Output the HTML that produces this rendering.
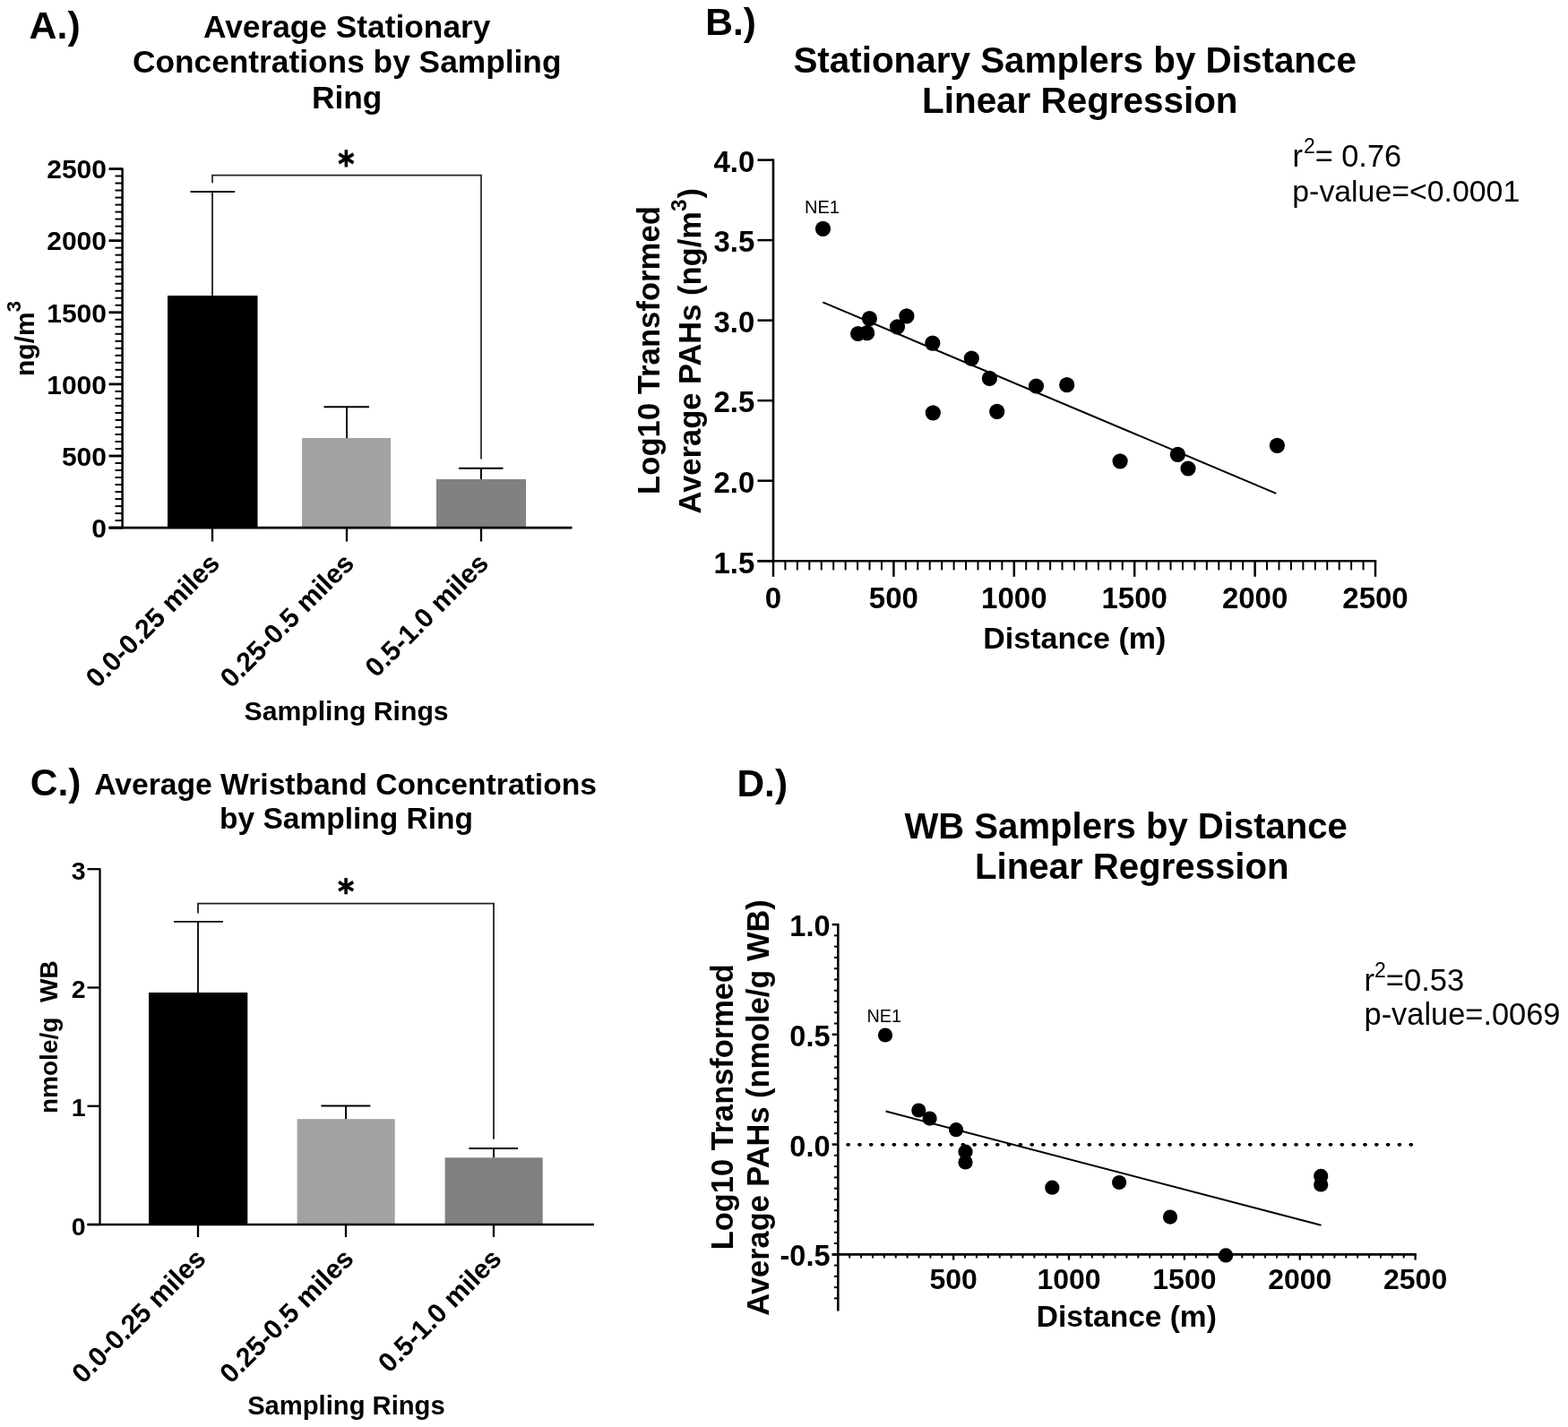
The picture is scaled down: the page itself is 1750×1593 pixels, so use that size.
<!DOCTYPE html>
<html><head><meta charset="utf-8"><title>Figure</title>
<style>
html,body{margin:0;padding:0;background:#fff;}
svg{display:block;}
</style></head>
<body>
<svg width="1750" height="1593" viewBox="0 0 1750 1593">
<rect width="1750" height="1593" fill="#fff"/>
<text x="32.60" y="42.90" font-size="42.8" font-weight="bold" text-anchor="start" font-family="'Liberation Sans', Arial, Helvetica, sans-serif" >A.)</text>
<text x="387.20" y="41.70" font-size="35.3" font-weight="bold" text-anchor="middle" font-family="'Liberation Sans', Arial, Helvetica, sans-serif" >Average Stationary</text>
<text x="387.20" y="81.40" font-size="35.3" font-weight="bold" text-anchor="middle" font-family="'Liberation Sans', Arial, Helvetica, sans-serif" >Concentrations by Sampling</text>
<text x="387.20" y="120.50" font-size="35.3" font-weight="bold" text-anchor="middle" font-family="'Liberation Sans', Arial, Helvetica, sans-serif" >Ring</text>
<line x1="121.50" y1="589.10" x2="136.60" y2="589.10" stroke="#000" stroke-width="2.8" />
<line x1="128.50" y1="581.09" x2="136.60" y2="581.09" stroke="#000" stroke-width="2.0" />
<line x1="128.50" y1="573.08" x2="136.60" y2="573.08" stroke="#000" stroke-width="2.0" />
<line x1="128.50" y1="565.06" x2="136.60" y2="565.06" stroke="#000" stroke-width="2.0" />
<line x1="128.50" y1="557.05" x2="136.60" y2="557.05" stroke="#000" stroke-width="2.0" />
<line x1="128.50" y1="549.04" x2="136.60" y2="549.04" stroke="#000" stroke-width="2.0" />
<line x1="128.50" y1="541.03" x2="136.60" y2="541.03" stroke="#000" stroke-width="2.0" />
<line x1="128.50" y1="533.02" x2="136.60" y2="533.02" stroke="#000" stroke-width="2.0" />
<line x1="128.50" y1="525.00" x2="136.60" y2="525.00" stroke="#000" stroke-width="2.0" />
<line x1="128.50" y1="516.99" x2="136.60" y2="516.99" stroke="#000" stroke-width="2.0" />
<line x1="121.50" y1="508.98" x2="136.60" y2="508.98" stroke="#000" stroke-width="2.8" />
<line x1="128.50" y1="500.97" x2="136.60" y2="500.97" stroke="#000" stroke-width="2.0" />
<line x1="128.50" y1="492.96" x2="136.60" y2="492.96" stroke="#000" stroke-width="2.0" />
<line x1="128.50" y1="484.94" x2="136.60" y2="484.94" stroke="#000" stroke-width="2.0" />
<line x1="128.50" y1="476.93" x2="136.60" y2="476.93" stroke="#000" stroke-width="2.0" />
<line x1="128.50" y1="468.92" x2="136.60" y2="468.92" stroke="#000" stroke-width="2.0" />
<line x1="128.50" y1="460.91" x2="136.60" y2="460.91" stroke="#000" stroke-width="2.0" />
<line x1="128.50" y1="452.90" x2="136.60" y2="452.90" stroke="#000" stroke-width="2.0" />
<line x1="128.50" y1="444.88" x2="136.60" y2="444.88" stroke="#000" stroke-width="2.0" />
<line x1="128.50" y1="436.87" x2="136.60" y2="436.87" stroke="#000" stroke-width="2.0" />
<line x1="121.50" y1="428.86" x2="136.60" y2="428.86" stroke="#000" stroke-width="2.8" />
<line x1="128.50" y1="420.85" x2="136.60" y2="420.85" stroke="#000" stroke-width="2.0" />
<line x1="128.50" y1="412.84" x2="136.60" y2="412.84" stroke="#000" stroke-width="2.0" />
<line x1="128.50" y1="404.82" x2="136.60" y2="404.82" stroke="#000" stroke-width="2.0" />
<line x1="128.50" y1="396.81" x2="136.60" y2="396.81" stroke="#000" stroke-width="2.0" />
<line x1="128.50" y1="388.80" x2="136.60" y2="388.80" stroke="#000" stroke-width="2.0" />
<line x1="128.50" y1="380.79" x2="136.60" y2="380.79" stroke="#000" stroke-width="2.0" />
<line x1="128.50" y1="372.78" x2="136.60" y2="372.78" stroke="#000" stroke-width="2.0" />
<line x1="128.50" y1="364.76" x2="136.60" y2="364.76" stroke="#000" stroke-width="2.0" />
<line x1="128.50" y1="356.75" x2="136.60" y2="356.75" stroke="#000" stroke-width="2.0" />
<line x1="121.50" y1="348.74" x2="136.60" y2="348.74" stroke="#000" stroke-width="2.8" />
<line x1="128.50" y1="340.73" x2="136.60" y2="340.73" stroke="#000" stroke-width="2.0" />
<line x1="128.50" y1="332.72" x2="136.60" y2="332.72" stroke="#000" stroke-width="2.0" />
<line x1="128.50" y1="324.70" x2="136.60" y2="324.70" stroke="#000" stroke-width="2.0" />
<line x1="128.50" y1="316.69" x2="136.60" y2="316.69" stroke="#000" stroke-width="2.0" />
<line x1="128.50" y1="308.68" x2="136.60" y2="308.68" stroke="#000" stroke-width="2.0" />
<line x1="128.50" y1="300.67" x2="136.60" y2="300.67" stroke="#000" stroke-width="2.0" />
<line x1="128.50" y1="292.66" x2="136.60" y2="292.66" stroke="#000" stroke-width="2.0" />
<line x1="128.50" y1="284.64" x2="136.60" y2="284.64" stroke="#000" stroke-width="2.0" />
<line x1="128.50" y1="276.63" x2="136.60" y2="276.63" stroke="#000" stroke-width="2.0" />
<line x1="121.50" y1="268.62" x2="136.60" y2="268.62" stroke="#000" stroke-width="2.8" />
<line x1="128.50" y1="260.61" x2="136.60" y2="260.61" stroke="#000" stroke-width="2.0" />
<line x1="128.50" y1="252.60" x2="136.60" y2="252.60" stroke="#000" stroke-width="2.0" />
<line x1="128.50" y1="244.58" x2="136.60" y2="244.58" stroke="#000" stroke-width="2.0" />
<line x1="128.50" y1="236.57" x2="136.60" y2="236.57" stroke="#000" stroke-width="2.0" />
<line x1="128.50" y1="228.56" x2="136.60" y2="228.56" stroke="#000" stroke-width="2.0" />
<line x1="128.50" y1="220.55" x2="136.60" y2="220.55" stroke="#000" stroke-width="2.0" />
<line x1="128.50" y1="212.54" x2="136.60" y2="212.54" stroke="#000" stroke-width="2.0" />
<line x1="128.50" y1="204.52" x2="136.60" y2="204.52" stroke="#000" stroke-width="2.0" />
<line x1="128.50" y1="196.51" x2="136.60" y2="196.51" stroke="#000" stroke-width="2.0" />
<line x1="121.50" y1="188.50" x2="136.60" y2="188.50" stroke="#000" stroke-width="2.8" />
<line x1="136.60" y1="187.50" x2="136.60" y2="590.30" stroke="#000" stroke-width="2.5" />
<rect x="187.00" y="330.00" width="100.50" height="259.10" fill="#000"/>
<rect x="337.00" y="489.00" width="99.00" height="100.10" fill="#a2a2a2"/>
<rect x="487.00" y="535.00" width="100.00" height="54.10" fill="#818181"/>
<line x1="121.50" y1="589.10" x2="638.50" y2="589.10" stroke="#000" stroke-width="2.6" />
<line x1="237.00" y1="589.10" x2="237.00" y2="604.50" stroke="#000" stroke-width="2.3" />
<line x1="387.00" y1="589.10" x2="387.00" y2="604.50" stroke="#000" stroke-width="2.3" />
<line x1="537.00" y1="589.10" x2="537.00" y2="604.50" stroke="#000" stroke-width="2.3" />
<line x1="237.00" y1="330.00" x2="237.00" y2="214.00" stroke="#000" stroke-width="1.6" />
<line x1="212.50" y1="214.00" x2="262.00" y2="214.00" stroke="#000" stroke-width="1.8" />
<line x1="387.00" y1="489.00" x2="387.00" y2="454.30" stroke="#000" stroke-width="2.0" />
<line x1="361.50" y1="454.30" x2="412.00" y2="454.30" stroke="#000" stroke-width="2.0" />
<line x1="537.00" y1="535.00" x2="537.00" y2="522.70" stroke="#000" stroke-width="2.0" />
<line x1="512.00" y1="522.70" x2="561.50" y2="522.70" stroke="#000" stroke-width="2.0" />
<path d="M237,204.3 V195.6 H537 V512.6" fill="none" stroke="#222" stroke-width="1.7"/>
<text transform="translate(386.40 196.50) scale(1 1.13)" x="0" y="0" font-size="35" font-weight="bold" text-anchor="middle" font-family="DejaVu Sans, sans-serif" stroke="#000" stroke-width="0.7">*</text>
<text x="119.00" y="599.90" font-size="30" font-weight="bold" text-anchor="end" font-family="'Liberation Sans', Arial, Helvetica, sans-serif" >0</text>
<text x="119.00" y="519.78" font-size="30" font-weight="bold" text-anchor="end" font-family="'Liberation Sans', Arial, Helvetica, sans-serif" >500</text>
<text x="119.00" y="439.66" font-size="30" font-weight="bold" text-anchor="end" font-family="'Liberation Sans', Arial, Helvetica, sans-serif" >1000</text>
<text x="119.00" y="359.54" font-size="30" font-weight="bold" text-anchor="end" font-family="'Liberation Sans', Arial, Helvetica, sans-serif" >1500</text>
<text x="119.00" y="279.42" font-size="30" font-weight="bold" text-anchor="end" font-family="'Liberation Sans', Arial, Helvetica, sans-serif" >2000</text>
<text x="119.00" y="199.30" font-size="30" font-weight="bold" text-anchor="end" font-family="'Liberation Sans', Arial, Helvetica, sans-serif" >2500</text>
<text transform="translate(37.6 378) rotate(-90)" font-size="30" font-weight="bold" text-anchor="middle" font-family="'Liberation Sans', Arial, Helvetica, sans-serif">ng/m<tspan font-size="22" dy="-15">3</tspan></text>
<text transform="translate(247.0 630.5) rotate(-45)" font-size="30.2" font-weight="bold" text-anchor="end" font-family="'Liberation Sans', Arial, Helvetica, sans-serif">0.0-0.25 miles</text>
<text transform="translate(397.0 630.5) rotate(-45)" font-size="30.2" font-weight="bold" text-anchor="end" font-family="'Liberation Sans', Arial, Helvetica, sans-serif">0.25-0.5 miles</text>
<text transform="translate(547.0 630.5) rotate(-45)" font-size="30.2" font-weight="bold" text-anchor="end" font-family="'Liberation Sans', Arial, Helvetica, sans-serif">0.5-1.0 miles</text>
<text x="386.60" y="804.20" font-size="30.2" font-weight="bold" text-anchor="middle" font-family="'Liberation Sans', Arial, Helvetica, sans-serif" >Sampling Rings</text>
<text x="787.20" y="38.60" font-size="42.5" font-weight="bold" text-anchor="start" font-family="'Liberation Sans', Arial, Helvetica, sans-serif" >B.)</text>
<text x="1199.70" y="80.90" font-size="40.4" font-weight="bold" text-anchor="middle" font-family="'Liberation Sans', Arial, Helvetica, sans-serif" >Stationary Samplers by Distance</text>
<text x="1205.30" y="125.70" font-size="40.4" font-weight="bold" text-anchor="middle" font-family="'Liberation Sans', Arial, Helvetica, sans-serif" >Linear Regression</text>
<line x1="845.50" y1="626.20" x2="863.00" y2="626.20" stroke="#000" stroke-width="2.5" />
<text x="842.30" y="639.50" font-size="33" font-weight="bold" text-anchor="end" font-family="'Liberation Sans', Arial, Helvetica, sans-serif" >1.5</text>
<line x1="845.50" y1="536.68" x2="863.00" y2="536.68" stroke="#000" stroke-width="2.5" />
<text x="842.30" y="549.98" font-size="33" font-weight="bold" text-anchor="end" font-family="'Liberation Sans', Arial, Helvetica, sans-serif" >2.0</text>
<line x1="845.50" y1="447.16" x2="863.00" y2="447.16" stroke="#000" stroke-width="2.5" />
<text x="842.30" y="460.46" font-size="33" font-weight="bold" text-anchor="end" font-family="'Liberation Sans', Arial, Helvetica, sans-serif" >2.5</text>
<line x1="845.50" y1="357.64" x2="863.00" y2="357.64" stroke="#000" stroke-width="2.5" />
<text x="842.30" y="370.94" font-size="33" font-weight="bold" text-anchor="end" font-family="'Liberation Sans', Arial, Helvetica, sans-serif" >3.0</text>
<line x1="845.50" y1="268.12" x2="863.00" y2="268.12" stroke="#000" stroke-width="2.5" />
<text x="842.30" y="281.42" font-size="33" font-weight="bold" text-anchor="end" font-family="'Liberation Sans', Arial, Helvetica, sans-serif" >3.5</text>
<line x1="845.50" y1="178.60" x2="863.00" y2="178.60" stroke="#000" stroke-width="2.5" />
<text x="842.30" y="191.90" font-size="33" font-weight="bold" text-anchor="end" font-family="'Liberation Sans', Arial, Helvetica, sans-serif" >4.0</text>
<line x1="863.00" y1="177.40" x2="863.00" y2="626.20" stroke="#000" stroke-width="2.6" />
<line x1="845.50" y1="626.20" x2="1536.20" y2="626.20" stroke="#000" stroke-width="2.6" />
<line x1="863.00" y1="626.20" x2="863.00" y2="643.80" stroke="#000" stroke-width="2.5" />
<text x="863.00" y="678.50" font-size="33" font-weight="bold" text-anchor="middle" font-family="'Liberation Sans', Arial, Helvetica, sans-serif" >0</text>
<line x1="876.44" y1="626.20" x2="876.44" y2="636.40" stroke="#000" stroke-width="2.0" />
<line x1="889.88" y1="626.20" x2="889.88" y2="636.40" stroke="#000" stroke-width="2.0" />
<line x1="903.32" y1="626.20" x2="903.32" y2="636.40" stroke="#000" stroke-width="2.0" />
<line x1="916.76" y1="626.20" x2="916.76" y2="636.40" stroke="#000" stroke-width="2.0" />
<line x1="930.20" y1="626.20" x2="930.20" y2="636.40" stroke="#000" stroke-width="2.0" />
<line x1="943.64" y1="626.20" x2="943.64" y2="636.40" stroke="#000" stroke-width="2.0" />
<line x1="957.08" y1="626.20" x2="957.08" y2="636.40" stroke="#000" stroke-width="2.0" />
<line x1="970.52" y1="626.20" x2="970.52" y2="636.40" stroke="#000" stroke-width="2.0" />
<line x1="983.96" y1="626.20" x2="983.96" y2="636.40" stroke="#000" stroke-width="2.0" />
<line x1="997.40" y1="626.20" x2="997.40" y2="643.80" stroke="#000" stroke-width="2.5" />
<text x="997.40" y="678.50" font-size="33" font-weight="bold" text-anchor="middle" font-family="'Liberation Sans', Arial, Helvetica, sans-serif" >500</text>
<line x1="1010.84" y1="626.20" x2="1010.84" y2="636.40" stroke="#000" stroke-width="2.0" />
<line x1="1024.28" y1="626.20" x2="1024.28" y2="636.40" stroke="#000" stroke-width="2.0" />
<line x1="1037.72" y1="626.20" x2="1037.72" y2="636.40" stroke="#000" stroke-width="2.0" />
<line x1="1051.16" y1="626.20" x2="1051.16" y2="636.40" stroke="#000" stroke-width="2.0" />
<line x1="1064.60" y1="626.20" x2="1064.60" y2="636.40" stroke="#000" stroke-width="2.0" />
<line x1="1078.04" y1="626.20" x2="1078.04" y2="636.40" stroke="#000" stroke-width="2.0" />
<line x1="1091.48" y1="626.20" x2="1091.48" y2="636.40" stroke="#000" stroke-width="2.0" />
<line x1="1104.92" y1="626.20" x2="1104.92" y2="636.40" stroke="#000" stroke-width="2.0" />
<line x1="1118.36" y1="626.20" x2="1118.36" y2="636.40" stroke="#000" stroke-width="2.0" />
<line x1="1131.80" y1="626.20" x2="1131.80" y2="643.80" stroke="#000" stroke-width="2.5" />
<text x="1131.80" y="678.50" font-size="33" font-weight="bold" text-anchor="middle" font-family="'Liberation Sans', Arial, Helvetica, sans-serif" >1000</text>
<line x1="1145.24" y1="626.20" x2="1145.24" y2="636.40" stroke="#000" stroke-width="2.0" />
<line x1="1158.68" y1="626.20" x2="1158.68" y2="636.40" stroke="#000" stroke-width="2.0" />
<line x1="1172.12" y1="626.20" x2="1172.12" y2="636.40" stroke="#000" stroke-width="2.0" />
<line x1="1185.56" y1="626.20" x2="1185.56" y2="636.40" stroke="#000" stroke-width="2.0" />
<line x1="1199.00" y1="626.20" x2="1199.00" y2="636.40" stroke="#000" stroke-width="2.0" />
<line x1="1212.44" y1="626.20" x2="1212.44" y2="636.40" stroke="#000" stroke-width="2.0" />
<line x1="1225.88" y1="626.20" x2="1225.88" y2="636.40" stroke="#000" stroke-width="2.0" />
<line x1="1239.32" y1="626.20" x2="1239.32" y2="636.40" stroke="#000" stroke-width="2.0" />
<line x1="1252.76" y1="626.20" x2="1252.76" y2="636.40" stroke="#000" stroke-width="2.0" />
<line x1="1266.20" y1="626.20" x2="1266.20" y2="643.80" stroke="#000" stroke-width="2.5" />
<text x="1266.20" y="678.50" font-size="33" font-weight="bold" text-anchor="middle" font-family="'Liberation Sans', Arial, Helvetica, sans-serif" >1500</text>
<line x1="1279.64" y1="626.20" x2="1279.64" y2="636.40" stroke="#000" stroke-width="2.0" />
<line x1="1293.08" y1="626.20" x2="1293.08" y2="636.40" stroke="#000" stroke-width="2.0" />
<line x1="1306.52" y1="626.20" x2="1306.52" y2="636.40" stroke="#000" stroke-width="2.0" />
<line x1="1319.96" y1="626.20" x2="1319.96" y2="636.40" stroke="#000" stroke-width="2.0" />
<line x1="1333.40" y1="626.20" x2="1333.40" y2="636.40" stroke="#000" stroke-width="2.0" />
<line x1="1346.84" y1="626.20" x2="1346.84" y2="636.40" stroke="#000" stroke-width="2.0" />
<line x1="1360.28" y1="626.20" x2="1360.28" y2="636.40" stroke="#000" stroke-width="2.0" />
<line x1="1373.72" y1="626.20" x2="1373.72" y2="636.40" stroke="#000" stroke-width="2.0" />
<line x1="1387.16" y1="626.20" x2="1387.16" y2="636.40" stroke="#000" stroke-width="2.0" />
<line x1="1400.60" y1="626.20" x2="1400.60" y2="643.80" stroke="#000" stroke-width="2.5" />
<text x="1400.60" y="678.50" font-size="33" font-weight="bold" text-anchor="middle" font-family="'Liberation Sans', Arial, Helvetica, sans-serif" >2000</text>
<line x1="1414.04" y1="626.20" x2="1414.04" y2="636.40" stroke="#000" stroke-width="2.0" />
<line x1="1427.48" y1="626.20" x2="1427.48" y2="636.40" stroke="#000" stroke-width="2.0" />
<line x1="1440.92" y1="626.20" x2="1440.92" y2="636.40" stroke="#000" stroke-width="2.0" />
<line x1="1454.36" y1="626.20" x2="1454.36" y2="636.40" stroke="#000" stroke-width="2.0" />
<line x1="1467.80" y1="626.20" x2="1467.80" y2="636.40" stroke="#000" stroke-width="2.0" />
<line x1="1481.24" y1="626.20" x2="1481.24" y2="636.40" stroke="#000" stroke-width="2.0" />
<line x1="1494.68" y1="626.20" x2="1494.68" y2="636.40" stroke="#000" stroke-width="2.0" />
<line x1="1508.12" y1="626.20" x2="1508.12" y2="636.40" stroke="#000" stroke-width="2.0" />
<line x1="1521.56" y1="626.20" x2="1521.56" y2="636.40" stroke="#000" stroke-width="2.0" />
<line x1="1535.00" y1="626.20" x2="1535.00" y2="643.80" stroke="#000" stroke-width="2.5" />
<text x="1535.00" y="678.50" font-size="33" font-weight="bold" text-anchor="middle" font-family="'Liberation Sans', Arial, Helvetica, sans-serif" >2500</text>
<text x="1199.30" y="724.20" font-size="34" font-weight="bold" text-anchor="middle" font-family="'Liberation Sans', Arial, Helvetica, sans-serif" >Distance (m)</text>
<text transform="translate(735.6 391) rotate(-90)" font-size="34.7" font-weight="bold" text-anchor="middle" font-family="'Liberation Sans', Arial, Helvetica, sans-serif">Log10 Transformed</text>
<text transform="translate(781.8 391.7) rotate(-90)" font-size="34.5" font-weight="bold" text-anchor="middle" font-family="'Liberation Sans', Arial, Helvetica, sans-serif">Average PAHs (ng/m<tspan font-size="24.5" dy="-16">3</tspan><tspan dx="1" dy="16">)</tspan></text>
<line x1="918.30" y1="337.40" x2="1424.30" y2="550.80" stroke="#000" stroke-width="2.0" />
<circle cx="918.50" cy="255.30" r="8.6" fill="#000"/>
<circle cx="970.40" cy="355.70" r="8.6" fill="#000"/>
<circle cx="957.60" cy="372.50" r="8.6" fill="#000"/>
<circle cx="967.70" cy="371.70" r="8.6" fill="#000"/>
<circle cx="1001.50" cy="364.80" r="8.6" fill="#000"/>
<circle cx="1011.90" cy="352.90" r="8.6" fill="#000"/>
<circle cx="1040.80" cy="383.10" r="8.6" fill="#000"/>
<circle cx="1084.30" cy="400.10" r="8.6" fill="#000"/>
<circle cx="1104.40" cy="422.40" r="8.6" fill="#000"/>
<circle cx="1156.50" cy="431.00" r="8.6" fill="#000"/>
<circle cx="1190.70" cy="429.70" r="8.6" fill="#000"/>
<circle cx="1041.30" cy="460.80" r="8.6" fill="#000"/>
<circle cx="1112.70" cy="459.30" r="8.6" fill="#000"/>
<circle cx="1250.10" cy="514.80" r="8.6" fill="#000"/>
<circle cx="1314.40" cy="507.40" r="8.6" fill="#000"/>
<circle cx="1326.00" cy="523.00" r="8.6" fill="#000"/>
<circle cx="1425.40" cy="497.30" r="8.6" fill="#000"/>
<text x="917.50" y="238.00" font-size="20.1" font-weight="normal" text-anchor="middle" font-family="'Liberation Sans', Arial, Helvetica, sans-serif" >NE1</text>
<text x="1442.5" y="185.8" font-size="34.3" font-family="'Liberation Sans', Arial, Helvetica, sans-serif">r<tspan font-size="23" dx="1" dy="-15">2</tspan><tspan dy="15">= 0.76</tspan></text>
<text x="1442.30" y="225.00" font-size="33.85" font-weight="normal" text-anchor="start" font-family="'Liberation Sans', Arial, Helvetica, sans-serif" >p-value=&lt;0.0001</text>
<text x="33.80" y="887.90" font-size="42.5" font-weight="bold" text-anchor="start" font-family="'Liberation Sans', Arial, Helvetica, sans-serif" >C.)</text>
<text x="385.60" y="886.90" font-size="33.65" font-weight="bold" text-anchor="middle" font-family="'Liberation Sans', Arial, Helvetica, sans-serif" >Average Wristband Concentrations</text>
<text x="386.50" y="924.80" font-size="33.5" font-weight="bold" text-anchor="middle" font-family="'Liberation Sans', Arial, Helvetica, sans-serif" >by Sampling Ring</text>
<line x1="97.50" y1="1367.00" x2="111.50" y2="1367.00" stroke="#000" stroke-width="2.3" />
<text x="95.50" y="1378.50" font-size="28.5" font-weight="bold" text-anchor="end" font-family="'Liberation Sans', Arial, Helvetica, sans-serif" >0</text>
<line x1="97.50" y1="1234.73" x2="111.50" y2="1234.73" stroke="#000" stroke-width="2.3" />
<text x="95.50" y="1246.23" font-size="28.5" font-weight="bold" text-anchor="end" font-family="'Liberation Sans', Arial, Helvetica, sans-serif" >1</text>
<line x1="97.50" y1="1102.47" x2="111.50" y2="1102.47" stroke="#000" stroke-width="2.3" />
<text x="95.50" y="1113.97" font-size="28.5" font-weight="bold" text-anchor="end" font-family="'Liberation Sans', Arial, Helvetica, sans-serif" >2</text>
<line x1="97.50" y1="970.20" x2="111.50" y2="970.20" stroke="#000" stroke-width="2.3" />
<text x="95.50" y="981.70" font-size="28.5" font-weight="bold" text-anchor="end" font-family="'Liberation Sans', Arial, Helvetica, sans-serif" >3</text>
<line x1="111.50" y1="969.20" x2="111.50" y2="1367.00" stroke="#000" stroke-width="2.3" />
<rect x="166.00" y="1108.00" width="110.30" height="259.00" fill="#000"/>
<rect x="331.60" y="1249.20" width="109.10" height="117.80" fill="#a2a2a2"/>
<rect x="496.60" y="1292.30" width="109.10" height="74.70" fill="#818181"/>
<line x1="97.50" y1="1367.00" x2="663.00" y2="1367.00" stroke="#000" stroke-width="2.5" />
<line x1="221.00" y1="1367.00" x2="221.00" y2="1381.00" stroke="#000" stroke-width="2.3" />
<line x1="386.00" y1="1367.00" x2="386.00" y2="1381.00" stroke="#000" stroke-width="2.3" />
<line x1="551.00" y1="1367.00" x2="551.00" y2="1381.00" stroke="#000" stroke-width="2.3" />
<line x1="221.00" y1="1108.00" x2="221.00" y2="1028.90" stroke="#000" stroke-width="1.8" />
<line x1="194.00" y1="1028.90" x2="249.00" y2="1028.90" stroke="#000" stroke-width="1.8" />
<line x1="386.00" y1="1249.20" x2="386.00" y2="1234.40" stroke="#000" stroke-width="2.0" />
<line x1="358.40" y1="1234.40" x2="413.40" y2="1234.40" stroke="#000" stroke-width="2.0" />
<line x1="551.00" y1="1292.30" x2="551.00" y2="1281.90" stroke="#000" stroke-width="2.0" />
<line x1="523.40" y1="1281.90" x2="578.00" y2="1281.90" stroke="#000" stroke-width="2.0" />
<path d="M221,1019.4 V1008.6 H551 V1271.8" fill="none" stroke="#222" stroke-width="1.8"/>
<text transform="translate(386.20 1008.00) scale(1 1.06)" x="0" y="0" font-size="35" font-weight="bold" text-anchor="middle" font-family="DejaVu Sans, sans-serif" stroke="#000" stroke-width="0.7">*</text>
<text transform="translate(64.1 1243) rotate(-90)" font-size="28" font-weight="bold" font-family="'Liberation Sans', Arial, Helvetica, sans-serif">nmole/g</text>
<text transform="translate(64.1 1119) rotate(-90)" font-size="28" font-weight="bold" font-family="'Liberation Sans', Arial, Helvetica, sans-serif">WB</text>
<text transform="translate(231.5 1406.8) rotate(-45)" font-size="30.2" font-weight="bold" text-anchor="end" font-family="'Liberation Sans', Arial, Helvetica, sans-serif">0.0-0.25 miles</text>
<text transform="translate(396.5 1406.8) rotate(-45)" font-size="30.2" font-weight="bold" text-anchor="end" font-family="'Liberation Sans', Arial, Helvetica, sans-serif">0.25-0.5 miles</text>
<text transform="translate(561.5 1406.8) rotate(-45)" font-size="30.2" font-weight="bold" text-anchor="end" font-family="'Liberation Sans', Arial, Helvetica, sans-serif">0.5-1.0 miles</text>
<text x="386.40" y="1578.80" font-size="29.2" font-weight="bold" text-anchor="middle" font-family="'Liberation Sans', Arial, Helvetica, sans-serif" >Sampling Rings</text>
<text x="822.40" y="888.80" font-size="42.5" font-weight="bold" text-anchor="start" font-family="'Liberation Sans', Arial, Helvetica, sans-serif" >D.)</text>
<text x="1256.70" y="935.90" font-size="40.1" font-weight="bold" text-anchor="middle" font-family="'Liberation Sans', Arial, Helvetica, sans-serif" >WB Samplers by Distance</text>
<text x="1263.30" y="980.70" font-size="40.2" font-weight="bold" text-anchor="middle" font-family="'Liberation Sans', Arial, Helvetica, sans-serif" >Linear Regression</text>
<line x1="928.70" y1="1032.10" x2="935.30" y2="1032.10" stroke="#000" stroke-width="2.5" />
<line x1="931.00" y1="1044.37" x2="935.30" y2="1044.37" stroke="#000" stroke-width="2.0" />
<line x1="931.00" y1="1056.65" x2="935.30" y2="1056.65" stroke="#000" stroke-width="2.0" />
<line x1="931.00" y1="1068.92" x2="935.30" y2="1068.92" stroke="#000" stroke-width="2.0" />
<line x1="931.00" y1="1081.19" x2="935.30" y2="1081.19" stroke="#000" stroke-width="2.0" />
<line x1="931.00" y1="1093.47" x2="935.30" y2="1093.47" stroke="#000" stroke-width="2.0" />
<line x1="931.00" y1="1105.74" x2="935.30" y2="1105.74" stroke="#000" stroke-width="2.0" />
<line x1="931.00" y1="1118.01" x2="935.30" y2="1118.01" stroke="#000" stroke-width="2.0" />
<line x1="931.00" y1="1130.29" x2="935.30" y2="1130.29" stroke="#000" stroke-width="2.0" />
<line x1="931.00" y1="1142.56" x2="935.30" y2="1142.56" stroke="#000" stroke-width="2.0" />
<line x1="928.70" y1="1154.83" x2="935.30" y2="1154.83" stroke="#000" stroke-width="2.5" />
<line x1="931.00" y1="1167.11" x2="935.30" y2="1167.11" stroke="#000" stroke-width="2.0" />
<line x1="931.00" y1="1179.38" x2="935.30" y2="1179.38" stroke="#000" stroke-width="2.0" />
<line x1="931.00" y1="1191.65" x2="935.30" y2="1191.65" stroke="#000" stroke-width="2.0" />
<line x1="931.00" y1="1203.93" x2="935.30" y2="1203.93" stroke="#000" stroke-width="2.0" />
<line x1="931.00" y1="1216.20" x2="935.30" y2="1216.20" stroke="#000" stroke-width="2.0" />
<line x1="931.00" y1="1228.47" x2="935.30" y2="1228.47" stroke="#000" stroke-width="2.0" />
<line x1="931.00" y1="1240.75" x2="935.30" y2="1240.75" stroke="#000" stroke-width="2.0" />
<line x1="931.00" y1="1253.02" x2="935.30" y2="1253.02" stroke="#000" stroke-width="2.0" />
<line x1="931.00" y1="1265.29" x2="935.30" y2="1265.29" stroke="#000" stroke-width="2.0" />
<line x1="928.70" y1="1277.57" x2="935.30" y2="1277.57" stroke="#000" stroke-width="2.5" />
<line x1="931.00" y1="1289.84" x2="935.30" y2="1289.84" stroke="#000" stroke-width="2.0" />
<line x1="931.00" y1="1302.11" x2="935.30" y2="1302.11" stroke="#000" stroke-width="2.0" />
<line x1="931.00" y1="1314.39" x2="935.30" y2="1314.39" stroke="#000" stroke-width="2.0" />
<line x1="931.00" y1="1326.66" x2="935.30" y2="1326.66" stroke="#000" stroke-width="2.0" />
<line x1="931.00" y1="1338.93" x2="935.30" y2="1338.93" stroke="#000" stroke-width="2.0" />
<line x1="931.00" y1="1351.21" x2="935.30" y2="1351.21" stroke="#000" stroke-width="2.0" />
<line x1="931.00" y1="1363.48" x2="935.30" y2="1363.48" stroke="#000" stroke-width="2.0" />
<line x1="931.00" y1="1375.75" x2="935.30" y2="1375.75" stroke="#000" stroke-width="2.0" />
<line x1="931.00" y1="1388.03" x2="935.30" y2="1388.03" stroke="#000" stroke-width="2.0" />
<line x1="928.70" y1="1400.30" x2="935.30" y2="1400.30" stroke="#000" stroke-width="2.5" />
<line x1="931.00" y1="1412.57" x2="935.30" y2="1412.57" stroke="#000" stroke-width="2.0" />
<line x1="931.00" y1="1424.85" x2="935.30" y2="1424.85" stroke="#000" stroke-width="2.0" />
<line x1="931.00" y1="1437.12" x2="935.30" y2="1437.12" stroke="#000" stroke-width="2.0" />
<line x1="931.00" y1="1449.39" x2="935.30" y2="1449.39" stroke="#000" stroke-width="2.0" />
<text x="926.50" y="1045.10" font-size="32.5" font-weight="bold" text-anchor="end" font-family="'Liberation Sans', Arial, Helvetica, sans-serif" >1.0</text>
<text x="926.50" y="1167.83" font-size="32.5" font-weight="bold" text-anchor="end" font-family="'Liberation Sans', Arial, Helvetica, sans-serif" >0.5</text>
<text x="926.50" y="1290.57" font-size="32.5" font-weight="bold" text-anchor="end" font-family="'Liberation Sans', Arial, Helvetica, sans-serif" >0.0</text>
<text x="926.50" y="1413.30" font-size="32.5" font-weight="bold" text-anchor="end" font-family="'Liberation Sans', Arial, Helvetica, sans-serif" >-0.5</text>
<line x1="935.30" y1="1030.90" x2="935.30" y2="1463.47" stroke="#000" stroke-width="2.6" />
<line x1="928.70" y1="1400.30" x2="1580.80" y2="1400.30" stroke="#000" stroke-width="2.8" />
<line x1="948.19" y1="1400.30" x2="948.19" y2="1404.50" stroke="#000" stroke-width="2.0" />
<line x1="961.07" y1="1400.30" x2="961.07" y2="1404.50" stroke="#000" stroke-width="2.0" />
<line x1="973.96" y1="1400.30" x2="973.96" y2="1404.50" stroke="#000" stroke-width="2.0" />
<line x1="986.84" y1="1400.30" x2="986.84" y2="1404.50" stroke="#000" stroke-width="2.0" />
<line x1="999.73" y1="1400.30" x2="999.73" y2="1404.50" stroke="#000" stroke-width="2.0" />
<line x1="1012.62" y1="1400.30" x2="1012.62" y2="1404.50" stroke="#000" stroke-width="2.0" />
<line x1="1025.50" y1="1400.30" x2="1025.50" y2="1404.50" stroke="#000" stroke-width="2.0" />
<line x1="1038.39" y1="1400.30" x2="1038.39" y2="1404.50" stroke="#000" stroke-width="2.0" />
<line x1="1051.27" y1="1400.30" x2="1051.27" y2="1404.50" stroke="#000" stroke-width="2.0" />
<line x1="1064.16" y1="1400.30" x2="1064.16" y2="1406.60" stroke="#000" stroke-width="2.3" />
<text x="1064.16" y="1438.70" font-size="32" font-weight="bold" text-anchor="middle" font-family="'Liberation Sans', Arial, Helvetica, sans-serif" >500</text>
<line x1="1077.05" y1="1400.30" x2="1077.05" y2="1404.50" stroke="#000" stroke-width="2.0" />
<line x1="1089.93" y1="1400.30" x2="1089.93" y2="1404.50" stroke="#000" stroke-width="2.0" />
<line x1="1102.82" y1="1400.30" x2="1102.82" y2="1404.50" stroke="#000" stroke-width="2.0" />
<line x1="1115.70" y1="1400.30" x2="1115.70" y2="1404.50" stroke="#000" stroke-width="2.0" />
<line x1="1128.59" y1="1400.30" x2="1128.59" y2="1404.50" stroke="#000" stroke-width="2.0" />
<line x1="1141.48" y1="1400.30" x2="1141.48" y2="1404.50" stroke="#000" stroke-width="2.0" />
<line x1="1154.36" y1="1400.30" x2="1154.36" y2="1404.50" stroke="#000" stroke-width="2.0" />
<line x1="1167.25" y1="1400.30" x2="1167.25" y2="1404.50" stroke="#000" stroke-width="2.0" />
<line x1="1180.13" y1="1400.30" x2="1180.13" y2="1404.50" stroke="#000" stroke-width="2.0" />
<line x1="1193.02" y1="1400.30" x2="1193.02" y2="1406.60" stroke="#000" stroke-width="2.3" />
<text x="1193.02" y="1438.70" font-size="32" font-weight="bold" text-anchor="middle" font-family="'Liberation Sans', Arial, Helvetica, sans-serif" >1000</text>
<line x1="1205.91" y1="1400.30" x2="1205.91" y2="1404.50" stroke="#000" stroke-width="2.0" />
<line x1="1218.79" y1="1400.30" x2="1218.79" y2="1404.50" stroke="#000" stroke-width="2.0" />
<line x1="1231.68" y1="1400.30" x2="1231.68" y2="1404.50" stroke="#000" stroke-width="2.0" />
<line x1="1244.56" y1="1400.30" x2="1244.56" y2="1404.50" stroke="#000" stroke-width="2.0" />
<line x1="1257.45" y1="1400.30" x2="1257.45" y2="1404.50" stroke="#000" stroke-width="2.0" />
<line x1="1270.34" y1="1400.30" x2="1270.34" y2="1404.50" stroke="#000" stroke-width="2.0" />
<line x1="1283.22" y1="1400.30" x2="1283.22" y2="1404.50" stroke="#000" stroke-width="2.0" />
<line x1="1296.11" y1="1400.30" x2="1296.11" y2="1404.50" stroke="#000" stroke-width="2.0" />
<line x1="1308.99" y1="1400.30" x2="1308.99" y2="1404.50" stroke="#000" stroke-width="2.0" />
<line x1="1321.88" y1="1400.30" x2="1321.88" y2="1406.60" stroke="#000" stroke-width="2.3" />
<text x="1321.88" y="1438.70" font-size="32" font-weight="bold" text-anchor="middle" font-family="'Liberation Sans', Arial, Helvetica, sans-serif" >1500</text>
<line x1="1334.77" y1="1400.30" x2="1334.77" y2="1404.50" stroke="#000" stroke-width="2.0" />
<line x1="1347.65" y1="1400.30" x2="1347.65" y2="1404.50" stroke="#000" stroke-width="2.0" />
<line x1="1360.54" y1="1400.30" x2="1360.54" y2="1404.50" stroke="#000" stroke-width="2.0" />
<line x1="1373.42" y1="1400.30" x2="1373.42" y2="1404.50" stroke="#000" stroke-width="2.0" />
<line x1="1386.31" y1="1400.30" x2="1386.31" y2="1404.50" stroke="#000" stroke-width="2.0" />
<line x1="1399.20" y1="1400.30" x2="1399.20" y2="1404.50" stroke="#000" stroke-width="2.0" />
<line x1="1412.08" y1="1400.30" x2="1412.08" y2="1404.50" stroke="#000" stroke-width="2.0" />
<line x1="1424.97" y1="1400.30" x2="1424.97" y2="1404.50" stroke="#000" stroke-width="2.0" />
<line x1="1437.85" y1="1400.30" x2="1437.85" y2="1404.50" stroke="#000" stroke-width="2.0" />
<line x1="1450.74" y1="1400.30" x2="1450.74" y2="1406.60" stroke="#000" stroke-width="2.3" />
<text x="1450.74" y="1438.70" font-size="32" font-weight="bold" text-anchor="middle" font-family="'Liberation Sans', Arial, Helvetica, sans-serif" >2000</text>
<line x1="1463.63" y1="1400.30" x2="1463.63" y2="1404.50" stroke="#000" stroke-width="2.0" />
<line x1="1476.51" y1="1400.30" x2="1476.51" y2="1404.50" stroke="#000" stroke-width="2.0" />
<line x1="1489.40" y1="1400.30" x2="1489.40" y2="1404.50" stroke="#000" stroke-width="2.0" />
<line x1="1502.28" y1="1400.30" x2="1502.28" y2="1404.50" stroke="#000" stroke-width="2.0" />
<line x1="1515.17" y1="1400.30" x2="1515.17" y2="1404.50" stroke="#000" stroke-width="2.0" />
<line x1="1528.06" y1="1400.30" x2="1528.06" y2="1404.50" stroke="#000" stroke-width="2.0" />
<line x1="1540.94" y1="1400.30" x2="1540.94" y2="1404.50" stroke="#000" stroke-width="2.0" />
<line x1="1553.83" y1="1400.30" x2="1553.83" y2="1404.50" stroke="#000" stroke-width="2.0" />
<line x1="1566.71" y1="1400.30" x2="1566.71" y2="1404.50" stroke="#000" stroke-width="2.0" />
<line x1="1579.60" y1="1400.30" x2="1579.60" y2="1406.60" stroke="#000" stroke-width="2.3" />
<text x="1579.60" y="1438.70" font-size="32" font-weight="bold" text-anchor="middle" font-family="'Liberation Sans', Arial, Helvetica, sans-serif" >2500</text>
<line x1="946.0" y1="1277.87" x2="1576" y2="1277.87" stroke="#000" stroke-width="3.6" stroke-linecap="round" stroke-dasharray="1.2 11.62"/>
<text x="1257.30" y="1481.10" font-size="33.5" font-weight="bold" text-anchor="middle" font-family="'Liberation Sans', Arial, Helvetica, sans-serif" >Distance (m)</text>
<text transform="translate(817.6 1235.7) rotate(-90)" font-size="34.4" font-weight="bold" text-anchor="middle" font-family="'Liberation Sans', Arial, Helvetica, sans-serif">Log10 Transformed</text>
<text transform="translate(857.5 1236.5) rotate(-90)" font-size="34.4" font-weight="bold" text-anchor="middle" font-family="'Liberation Sans', Arial, Helvetica, sans-serif">Average PAHs (nmole/g WB)</text>
<line x1="988.60" y1="1240.50" x2="1474.50" y2="1367.80" stroke="#000" stroke-width="2.0" />
<circle cx="988.00" cy="1155.50" r="8.1" fill="#000"/>
<circle cx="1025.30" cy="1239.50" r="8.1" fill="#000"/>
<circle cx="1037.60" cy="1248.60" r="8.1" fill="#000"/>
<circle cx="1067.10" cy="1261.20" r="8.1" fill="#000"/>
<circle cx="1077.50" cy="1285.70" r="8.1" fill="#000"/>
<circle cx="1077.50" cy="1297.50" r="8.1" fill="#000"/>
<circle cx="1174.30" cy="1325.70" r="8.1" fill="#000"/>
<circle cx="1249.10" cy="1320.00" r="8.1" fill="#000"/>
<circle cx="1306.00" cy="1358.60" r="8.1" fill="#000"/>
<circle cx="1368.10" cy="1401.40" r="8.1" fill="#000"/>
<circle cx="1474.20" cy="1312.90" r="8.1" fill="#000"/>
<circle cx="1474.20" cy="1322.40" r="8.1" fill="#000"/>
<text x="986.80" y="1140.80" font-size="19.8" font-weight="normal" text-anchor="middle" font-family="'Liberation Sans', Arial, Helvetica, sans-serif" >NE1</text>
<text x="1522.5" y="1105.5" font-size="34.6" font-family="'Liberation Sans', Arial, Helvetica, sans-serif">r<tspan font-size="23" dy="-15">2</tspan><tspan dy="15">=0.53</tspan></text>
<text x="1522.50" y="1143.50" font-size="34.4" font-weight="normal" text-anchor="start" font-family="'Liberation Sans', Arial, Helvetica, sans-serif" >p-value=.0069</text>
</svg>
</body></html>
